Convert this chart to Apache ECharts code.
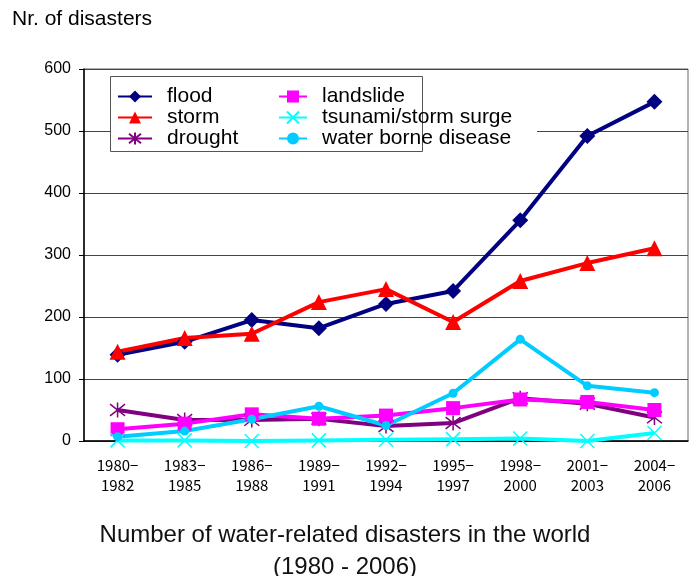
<!DOCTYPE html>
<html><head><meta charset="utf-8">
<script src="https://cdn.jsdelivr.net/npm/echarts@6/dist/echarts.min.js"></script>
<style>html,body{margin:0;padding:0;background:#fff}#c{width:690px;height:576px}</style>
</head><body><div id="c"></div>
<script>
const categories = ['1980−\n1982','1983−\n1985','1986−\n1988','1989−\n1991','1992−\n1994','1995−\n1997','1998−\n2000','2001−\n2003','2004−\n2006'];
const flood = [139, 160, 195, 182, 221, 242, 356, 492, 547];
const storm = [144, 166, 173, 224, 245, 192, 258, 287, 311];
const drought = [50, 34, 34, 36, 24, 29, 69, 60, 38];
const landslide = [19, 28, 43, 36, 41, 53, 67, 63, 50];
const tsunami = [1, 1, 0, 1, 2, 3, 4, 0, 13];
const waterBorne = [7, 16, 35, 56, 25, 77, 164, 89, 78];
const yTicks = [0, 100, 200, 300, 400, 500, 600];

const chart = echarts.init(document.getElementById('c'));
const FONT = 'Liberation Sans, Arial, sans-serif';
function ser(name, data, color, symbol, size, extra) {
  return Object.assign({
    name, type: 'line', data, symbol, symbolSize: size,
    lineStyle: { color, width: 4 },
    itemStyle: { color },
    emphasis: { disabled: true }, animation: false
  }, extra || {});
}
const legendText = { fontSize: 21, fontFamily: FONT, color: '#000', lineHeight: 21, padding: [0, 0, 0, 10] };
chart.setOption({
  animation: false,
  grid: { left: 84, right: 2, top: 69, bottom: 135, show: true, borderColor: '#666', borderWidth: 1 },
  xAxis: {
    type: 'category', data: categories, boundaryGap: true,
    axisLine: { lineStyle: { color: '#000', width: 1.5 } },
    axisTick: { inside: true, length: 5, lineStyle: { color: '#000' } },
    axisLabel: { fontSize: 15, fontFamily: 'Noto Sans CJK JP', color: '#000', lineHeight: 20, margin: 14 }
  },
  yAxis: {
    type: 'value', min: yTicks[0], max: yTicks[yTicks.length - 1], interval: 100,
    axisLine: { show: true, lineStyle: { color: '#000', width: 1.5 } },
    axisTick: { show: true, length: 5, lineStyle: { color: '#000' } },
    axisLabel: { fontSize: 16, fontFamily: FONT, color: '#000', margin: 13 },
    splitLine: { lineStyle: { color: '#444', width: 1 } }
  },
  legend: [
    { data: ['flood', 'storm', 'drought'], orient: 'vertical', left: 117, top: 86, itemWidth: 34, itemHeight: 15, itemGap: 0, textStyle: legendText, padding: 0 },
    { data: ['landslide', 'tsunami/storm surge', 'water borne disease'], orient: 'vertical', left: 278, top: 86, itemWidth: 28, itemHeight: 15, itemGap: 0, textStyle: legendText, padding: 0 }
  ],
  title: {
    text: 'Number of water-related disasters in the world\n(1980 - 2006)',
    left: 'center', top: 519, padding: 0,
    textStyle: { fontSize: 24, fontWeight: 'normal', fontFamily: FONT, color: '#111', lineHeight: 32 }
  },
  graphic: [
    { type: 'rect', z: 3, shape: { x: 110, y: 77, width: 427, height: 75 }, style: { fill: '#fff' } },
    { type: 'rect', z: 3, shape: { x: 110.5, y: 76.5, width: 312, height: 75 }, style: { fill: 'none', stroke: '#555', lineWidth: 1 } },
    { type: 'text', z: 3, left: 12, top: 9, style: { text: 'Nr. of disasters', fontSize: 21, fontFamily: FONT, fill: '#000' } }
  ],
  series: [
    ser('flood', flood, '#000080', 'diamond', 16),
    ser('storm', storm, '#ff0000', 'triangle', 16),
    ser('drought', drought, '#800080', 'path://M-7,-7L7,7M-7,7L7,-7M0,-9L0,9', 15, { itemStyle: { color: '#800080', borderColor: '#800080', borderWidth: 1.5 } }),
    ser('landslide', landslide, '#ff00ff', 'rect', 14),
    ser('tsunami/storm surge', tsunami, '#00ffff', 'path://M-7,-7L7,7M-7,7L7,-7', 14, { itemStyle: { color: '#00ffff', borderColor: '#00ffff', borderWidth: 1.5 } }),
    ser('water borne disease', waterBorne, '#00ccff', 'circle', 9)
  ]
});
</script>
</body></html>
